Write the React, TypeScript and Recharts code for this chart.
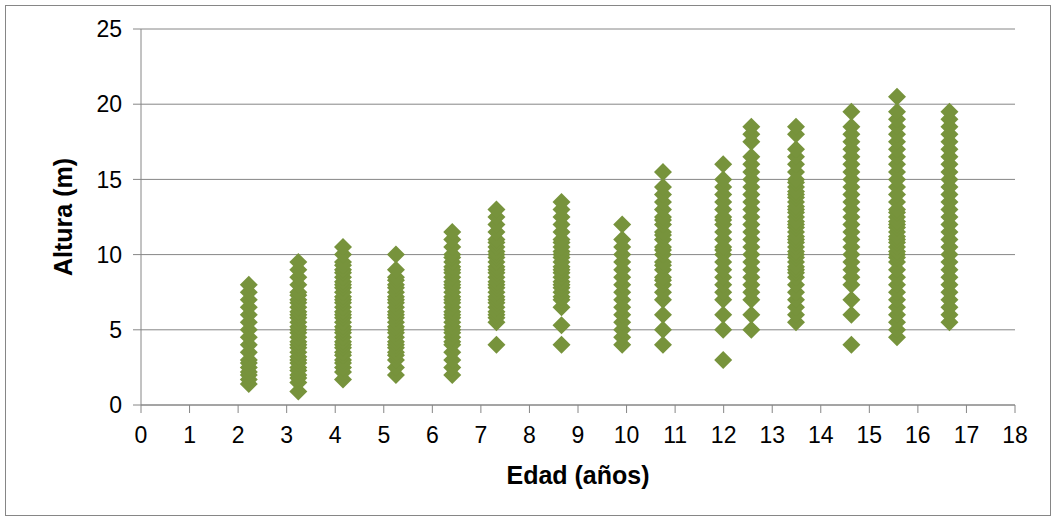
import {
  CartesianGrid,
  Label,
  Scatter,
  ScatterChart,
  XAxis,
  YAxis,
} from "recharts";

const MARKER_COLOR = "#77933C";
const AXIS_COLOR = "#868686";
const FONT = '"Liberation Sans", Arial, sans-serif';

// ages (años) of each sampled group
const ages = [2.22, 3.24, 4.16, 5.25, 6.41, 7.32, 8.66, 9.91, 10.75, 11.99, 12.57, 13.49, 14.63, 15.57, 16.65];

// heights (m) per age group
const h2 = [1.4, 1.7, 2, 2.2, 2.5, 2.8, 3, 3.5, 4, 4.5, 5, 5.5, 6, 6.5, 7, 7.5, 8];
const h3 = [0.9, 1.5, 1.8, 2, 2.3, 2.5, 2.8, 3, 3.2, 3.5, 3.8, 4, 4.2, 4.5, 4.8, 5, 5.2, 5.5, 5.8, 6, 6.2, 6.5, 6.8, 7, 7.3, 7.5, 8, 8.5, 9, 9.5];
const h4 = [1.7, 2.2, 2.5, 2.8, 3, 3.3, 3.5, 3.8, 4, 4.2, 4.5, 4.8, 5, 5.2, 5.5, 5.8, 6, 6.2, 6.5, 6.8, 7, 7.2, 7.5, 7.8, 8, 8.2, 8.5, 8.8, 9, 9.3, 9.5, 10, 10.5];
const h5 = [2, 2.5, 3, 3.3, 3.5, 3.8, 4, 4.2, 4.5, 4.8, 5, 5.2, 5.5, 5.8, 6, 6.2, 6.5, 6.8, 7, 7.2, 7.5, 7.8, 8, 8.3, 8.5, 9, 10];
const h6 = [2, 2.5, 3, 3.5, 4, 4.2, 4.5, 4.8, 5, 5.2, 5.5, 5.8, 6, 6.2, 6.5, 6.8, 7, 7.2, 7.5, 7.8, 8, 8.2, 8.5, 8.8, 9, 9.2, 9.5, 9.8, 10, 10.5, 11, 11.5];
const h7 = [4, 5.5, 5.8, 6, 6.2, 6.5, 6.8, 7, 7.2, 7.5, 7.8, 8, 8.2, 8.5, 8.8, 9, 9.2, 9.5, 9.8, 10, 10.2, 10.5, 10.8, 11, 11.5, 12, 12.5, 13];
const h8 = [4, 5.3, 6.5, 7, 7.2, 7.5, 7.8, 8, 8.2, 8.5, 8.8, 9, 9.2, 9.5, 9.8, 10, 10.2, 10.5, 10.8, 11, 11.5, 12, 12.5, 13, 13.5];
const h9 = [4, 4.5, 5, 5.5, 6, 6.5, 7, 7.5, 8, 8.5, 9, 9.5, 10, 10.5, 11, 12];
const h10 = [4, 5, 6, 7, 7.5, 8, 8.3, 8.5, 9, 9.3, 9.5, 10, 10.3, 10.5, 11, 11.3, 11.5, 12, 12.3, 12.5, 13, 13.5, 14, 14.5, 15.5];
const h11 = [3, 5, 6, 7, 7.5, 8, 8.5, 9, 9.5, 10, 10.3, 10.5, 11, 11.5, 12, 12.3, 12.5, 13, 13.5, 14, 14.5, 15, 16];
const h12 = [5, 6, 7, 7.5, 8, 8.5, 9, 9.5, 10, 10.5, 11, 11.5, 12, 12.5, 13, 13.5, 14, 14.5, 15, 15.5, 16, 16.5, 17.5, 18, 18.5];
const h13 = [5.5, 6, 6.5, 7, 7.5, 8, 8.5, 8.8, 9, 9.2, 9.5, 9.8, 10, 10.2, 10.5, 10.8, 11, 11.2, 11.5, 11.8, 12, 12.2, 12.5, 12.8, 13, 13.2, 13.5, 13.8, 14, 14.2, 14.5, 14.8, 15, 15.5, 16, 16.5, 17, 18, 18.5];
const h14 = [4, 6, 7, 8, 8.5, 9, 9.5, 10, 10.5, 11, 11.5, 12, 12.5, 13, 13.5, 14, 14.5, 15, 15.5, 16, 16.5, 17, 17.5, 18, 18.5, 19.5];
const h15 = [4.5, 5, 5.5, 6, 6.5, 7, 7.5, 8, 8.5, 9, 9.5, 9.8, 10, 10.2, 10.5, 10.8, 11, 11.2, 11.5, 11.8, 12, 12.2, 12.5, 12.8, 13, 13.5, 14, 14.5, 15, 15.5, 16, 16.5, 17, 17.5, 18, 18.5, 19, 19.5, 20.5];
const h16 = [5.5, 6, 6.5, 7, 7.5, 8, 8.5, 9, 9.5, 10, 10.5, 11, 11.5, 12, 12.5, 13, 13.5, 14, 14.5, 15, 15.5, 16, 16.5, 17, 17.5, 18, 18.5, 19, 19.5];

const heights = [h2, h3, h4, h5, h6, h7, h8, h9, h10, h11, h12, h13, h14, h15, h16];

const xTicks = [0, 1, 2, 3, 4, 5, 6, 7, 8, 9, 10, 11, 12, 13, 14, 15, 16, 17, 18];
const yTicks = [0, 5, 10, 15, 20, 25];

const points = ages.flatMap((edad, i) => heights[i].map((altura) => ({ edad, altura })));

// Excel style diamond: a square turned 45deg
function Diamond(props: { cx?: number; cy?: number }) {
  const { cx, cy } = props;
  if (cx == null || cy == null) return null;
  const r = 9;
  return (
    <polygon
      points={`${cx},${cy - r} ${cx + r},${cy} ${cx},${cy + r} ${cx - r},${cy}`}
      fill={MARKER_COLOR}
    />
  );
}

export default function App() {
  return (
    <div style={{ position: "absolute", left: 0, top: 0, width: 1055, height: 516, background: "#fff" }}>
      <div
        style={{
          position: "absolute",
          left: 5,
          top: 5,
          width: 1044,
          height: 509,
          border: `1px solid ${AXIS_COLOR}`,
        }}
      />
      <ScatterChart
        width={1055}
        height={516}
        margin={{ top: 29, right: 40, left: 0, bottom: 0 }}
        style={{ fontFamily: FONT, position: "absolute", left: 0, top: 0 }}
      >
        <CartesianGrid vertical={false} stroke={AXIS_COLOR} strokeWidth={1} />
        <XAxis
          type="number"
          dataKey="edad"
          domain={[0, 18]}
          ticks={xTicks}
          interval={0}
          height={111}
          tickSize={8}
          tickMargin={14}
          stroke={AXIS_COLOR}
          tick={{ fontSize: 23, fill: "#000", fontFamily: FONT }}
        >
          <Label
            content={({ viewBox }: any) => (
              <text
                x={viewBox.x + viewBox.width / 2}
                y={viewBox.y + 79}
                textAnchor="middle"
                fontSize={25}
                fontWeight="bold"
                fontFamily={FONT}
                fill="#000"
              >
                Edad (años)
              </text>
            )}
          />
        </XAxis>
        <YAxis
          type="number"
          dataKey="altura"
          domain={[0, 25]}
          ticks={yTicks}
          interval={0}
          width={141}
          tickSize={8}
          tickMargin={11}
          stroke={AXIS_COLOR}
          tick={{ fontSize: 23, fill: "#000", fontFamily: FONT }}
        >
          <Label
            content={({ viewBox }: any) => {
              const cx = viewBox.x + 63;
              const cy = viewBox.y + viewBox.height / 2;
              return (
                <text
                  x={cx}
                  y={cy}
                  transform={`rotate(-90 ${cx} ${cy})`}
                  textAnchor="middle"
                  dominantBaseline="central"
                  fontSize={25}
                  fontWeight="bold"
                  fontFamily={FONT}
                  fill="#000"
                >
                  Altura (m)
                </text>
              );
            }}
          />
        </YAxis>
        <Scatter data={points} shape={<Diamond />} isAnimationActive={false} />
      </ScatterChart>
    </div>
  );
}
